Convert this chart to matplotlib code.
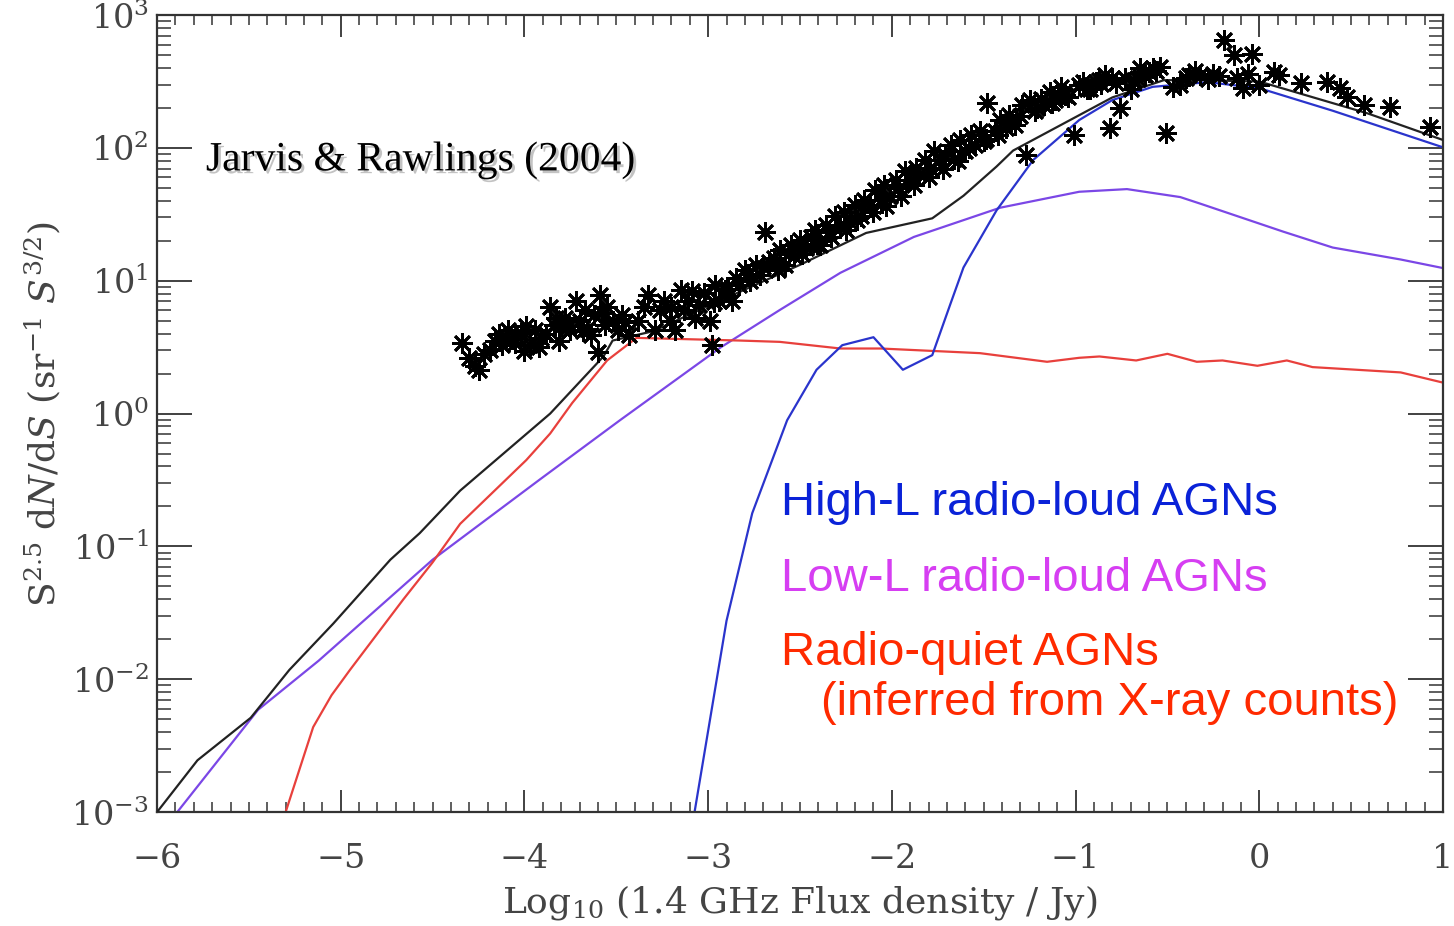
import numpy as np
import matplotlib
matplotlib.use("Agg")
import matplotlib.pyplot as plt
import matplotlib.patheffects as pe
from matplotlib.ticker import MultipleLocator, LogLocator, FixedLocator

# --- data: x = log10(S / Jy), values stored as log10 of S^2.5 dN/dS
total_x = [-6.0, -5.78, -5.49, -5.28, -5.04, -4.73, -4.57, -4.35, -3.86, -3.57,
           -3.52, -3.3, -3.0, -2.5, -2.14, -1.78, -1.61, -1.43, -1.34, -0.80,
           -0.52, -0.32, 0.0, 0.59, 1.0]
total_ly = [-3.0, -2.61, -2.29, -1.93, -1.58, -1.10, -0.90, -0.58, 0.0, 0.43,
            0.55, 0.62, 0.81, 1.12, 1.36, 1.47, 1.64, 1.86, 1.98, 2.38,
            2.51, 2.51, 2.50, 2.26, 2.06]

rq_x = [-5.30, -5.15, -5.05, -4.95, -4.66, -4.50, -4.35, -3.99, -3.86, -3.74,
        -3.55, -3.39, -2.83, -2.61, -2.28, -2.06, -1.52, -1.155, -0.98, -0.87,
        -0.67, -0.50, -0.34, -0.20, -0.01, 0.15, 0.29, 0.77, 1.01]
rq_ly = [-3.0, -2.36, -2.12, -1.93, -1.40, -1.12, -0.83, -0.35, -0.15, 0.08,
         0.40, 0.57, 0.55, 0.54, 0.49, 0.49, 0.455, 0.39, 0.42, 0.43,
         0.40, 0.45, 0.39, 0.40, 0.36, 0.40, 0.35, 0.31, 0.23]

lowl_x = [-5.89, -5.45, -5.12, -4.50, -3.92, -3.48, -2.93, -2.61, -2.28,
          -1.88, -1.41, -0.98, -0.72, -0.43, -0.32, 0.13, 0.40, 0.77, 1.02]
lowl_ly = [-3.0, -2.23, -1.86, -1.10, -0.50, -0.05, 0.50, 0.78, 1.06,
           1.33, 1.55, 1.67, 1.69, 1.63, 1.58, 1.37, 1.25, 1.16, 1.09]

highl_x = [-3.08, -2.90, -2.76, -2.57, -2.41, -2.27, -2.10, -1.94, -1.78, -1.68,
           -1.61, -1.43, -1.23, -0.98, -0.80, -0.58, -0.28, 0.0, 0.40, 1.01]
highl_ly = [-3.05, -1.56, -0.75, -0.05, 0.33, 0.515, 0.575, 0.33, 0.44, 0.83,
            1.10, 1.53, 1.91, 2.21, 2.36, 2.46, 2.495, 2.45, 2.28, 2.0]

obs_x = [-4.34, -4.27, -4.25, -4.19, -4.16, -4.12, -4.09, -4.05, -4.02, -3.97,
         -3.94, -3.91, -3.86, -3.84, -3.81, -3.78, -3.75, -3.72, -3.70, -3.67,
         -3.64, -3.62, -3.60, -3.59, -3.56, -3.52, -3.49, -3.45, -3.43, -3.33,
         -3.29, -3.26, -3.24, -3.21, -3.18, -3.15, -3.11, -3.07, -3.05, -3.02,
         -2.99, -2.98, -2.96, -2.94, -2.91, -2.87, -2.83, -2.80, -2.77, -2.74,
         -2.72, -2.69, -2.67, -2.64, -2.61, -2.58, -2.55, -2.53, -2.50, -2.47,
         -2.44, -2.42, -2.39, -2.36, -2.34, -2.31, -2.28, -2.26, -2.23, -2.20,
         -2.17, -2.15, -2.12, -2.09, -2.06, -2.04, -2.01, -1.98, -1.96, -1.93,
         -1.90, -1.87, -1.85, -1.82, -1.79, -1.77, -1.74, -1.71, -1.68, -1.66,
         -1.63, -1.60, -1.57, -1.55, -1.52, -1.49, -1.48, -1.44, -1.41, -1.38,
         -1.36, -1.33, -1.29, -1.27, -1.25, -1.22, -1.19, -1.17, -1.14, -1.11,
         -1.08, -1.06, -1.01, -0.98, -0.96, -0.92, -0.89, -0.87, -0.84, -0.81,
         -0.80, -0.76, -0.73, -0.70, -0.68, -0.65, -0.62, -0.58, -0.54, -0.51,
         -0.47, -0.43, -0.38, -0.32, -0.25, -0.19, -0.14, -0.04, -0.06, -0.09,
         0.00, 0.08, 0.11, 0.23, 0.37, 0.44, 0.48, 0.57, 0.71, 0.93,
         -4.22, -4.10, -4.00, -3.88, -3.80, -3.68, -3.55, -3.38, -3.35, -3.20,
         -4.30, -4.14, -4.07, -3.99, -3.92, -3.83, -3.76, -3.66, -3.58, -3.47,
         -3.13, -3.09, -2.97, -2.89, -2.85, -2.78, -2.70, -2.62, -2.56, -2.49,
         -2.41, -2.33, -2.25, -2.19, -2.10, -2.03, -1.95, -1.88, -1.80, -1.72,
         -1.64, -1.58, -1.50, -1.42, -1.35, -1.30, -1.21, -1.13, -1.04, -0.94,
         -0.86, -0.78, -0.66, -0.60, -0.56, -0.40, -0.35, -0.28, -0.22, -0.12]
obs_ly = [0.53, 0.36, 0.33, 0.48, 0.55, 0.52, 0.63, 0.53, 0.61, 0.52,
          0.63, 0.57, 0.80, 0.67, 0.55, 0.72, 0.63, 0.85, 0.70, 0.78,
          0.59, 0.74, 0.46, 0.89, 0.67, 0.70, 0.63, 0.69, 0.59, 0.89,
          0.63, 0.78, 0.85, 0.70, 0.63, 0.93, 0.85, 0.72, 0.82, 0.91,
          0.70, 0.52, 0.97, 0.85, 0.93, 0.85, 0.97, 1.08, 1.00, 1.12,
          1.04, 1.37, 1.14, 1.17, 1.23, 1.12, 1.27, 1.19, 1.31, 1.25,
          1.33, 1.38, 1.27, 1.42, 1.37, 1.49, 1.42, 1.52, 1.44, 1.57,
          1.49, 1.61, 1.57, 1.68, 1.61, 1.72, 1.64, 1.76, 1.70, 1.83,
          1.76, 1.85, 1.80, 1.91, 1.85, 1.98, 1.91, 1.95, 2.02, 1.92,
          2.06, 1.98, 2.10, 2.02, 2.13, 2.07, 2.34, 2.13, 2.21, 2.15,
          2.25, 2.17, 2.32, 1.95, 2.36, 2.28, 2.37, 2.32, 2.42, 2.36,
          2.46, 2.40, 2.10, 2.47, 2.50, 2.44, 2.50, 2.51, 2.55, 2.15,
          2.53, 2.30, 2.53, 2.44, 2.51, 2.60, 2.55, 2.60, 2.61, 2.11,
          2.46, 2.47, 2.55, 2.55, 2.56, 2.81, 2.70, 2.71, 2.56, 2.45,
          2.47, 2.57, 2.55, 2.49, 2.50, 2.45, 2.38, 2.32, 2.31, 2.16,
          0.45, 0.58, 0.47, 0.60, 0.66, 0.62, 0.80, 0.70, 0.80, 0.80,
          0.42, 0.60, 0.56, 0.66, 0.50, 0.72, 0.66, 0.64, 0.76, 0.74,
          0.78, 0.92, 0.84, 0.94, 1.02, 1.05, 1.10, 1.08, 1.20, 1.20,
          1.28, 1.33, 1.38, 1.46, 1.52, 1.56, 1.64, 1.72, 1.78, 1.84,
          1.90, 2.00, 2.05, 2.10, 2.20, 2.24, 2.30, 2.34, 2.38, 2.44,
          2.48, 2.49, 2.52, 2.57, 2.58, 2.53, 2.58, 2.52, 2.54, 2.53]

xticks = [-6, -5, -4, -3, -2, -1, 0, 1]

plt.rcParams['mathtext.fontset'] = 'dejavuserif'
plt.rcParams['font.family'] = 'DejaVu Serif'

fig = plt.figure(figsize=(14.54, 9.26), dpi=100)
ax = fig.add_axes([0.108, 0.123, 0.8844, 0.8607])

ax.plot(lowl_x, 10 ** np.array(lowl_ly), color='#7b47e6', lw=1.6, zorder=2)
ax.plot(rq_x, 10 ** np.array(rq_ly), color='#e8403c', lw=1.6, zorder=2)
ax.plot(highl_x, 10 ** np.array(highl_ly), color='#2a34cc', lw=1.6, zorder=2)
ax.plot(total_x, 10 ** np.array(total_ly), color='#222222', lw=1.6, zorder=3)
ax.plot(obs_x, 10 ** np.array(obs_ly), ls='none', marker=(8, 2, 0),
        ms=15, mew=2.0, color='black', zorder=4)

ax.set_yscale('log')
ax.set_xlim(-6, 1)
ax.set_ylim(1e-3, 1e3)

ax.xaxis.set_major_locator(FixedLocator(xticks))
ax.xaxis.set_minor_locator(MultipleLocator(0.1))
ax.yaxis.set_major_locator(LogLocator(base=10, numticks=10))
ax.yaxis.set_minor_locator(LogLocator(base=10, subs=np.arange(2, 10), numticks=10))
ax.tick_params(which='both', direction='in', top=True, right=True,
               colors='#333333', labelcolor='#444444')
ax.tick_params(axis='x', which='major', length=16, width=1.3, labelsize=24, pad=22)
ax.tick_params(axis='x', which='minor', length=7, width=1.1)
ax.tick_params(axis='y', which='major', length=25, width=1.3, labelsize=24, pad=6)
ax.tick_params(axis='y', which='minor', length=10, width=1.1, labelleft=False)
ax.set_xticklabels(['\u22126', '\u22125', '\u22124', '\u22123', '\u22122', '\u22121', '0', '1'])
for s in ax.spines.values():
    s.set_linewidth(1.6)
    s.set_color('#333333')

ax.set_xlabel(r'Log$_{\mathregular{10}}$ (1.4 GHz Flux density / Jy)', fontsize=26,
              color='#444444', labelpad=6)
ax.set_ylabel(r'S$^{2.5}$ d$N$/d$S$ (sr$^{-1}$ $S^{3/2}$)', fontsize=26,
              color='#444444', labelpad=6)

ax.text(0.038, 0.818, 'Jarvis & Rawlings (2004)', transform=ax.transAxes,
        fontsize=30, family='Liberation Serif', color='black', va='center',
        path_effects=[pe.SimplePatchShadow(offset=(2, -2), shadow_rgbFace='#888888', alpha=0.5),
                      pe.Normal()])

legend_font = dict(fontsize=34, family='Liberation Sans', va='center')
ax.text(0.485, 0.388, 'High-L radio-loud AGNs', transform=ax.transAxes,
        color='#0a22d8', **legend_font)
ax.text(0.485, 0.293, 'Low-L radio-loud AGNs', transform=ax.transAxes,
        color='#d63ef2', **legend_font)
ax.text(0.485, 0.199, 'Radio-quiet AGNs', transform=ax.transAxes,
        color='#ff2a00', **legend_font)
ax.text(0.516, 0.137, '(inferred from X-ray counts)', transform=ax.transAxes,
        color='#ff2a00', **legend_font)

fig.savefig('out.png', dpi=100)
